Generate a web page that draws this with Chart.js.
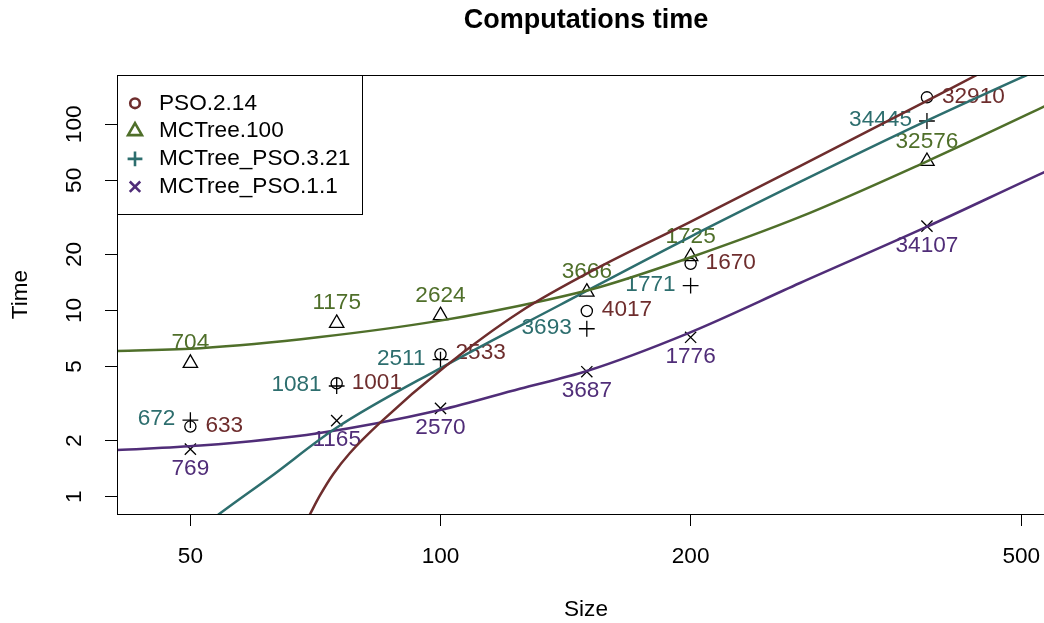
<!DOCTYPE html>
<html>
<head>
<meta charset="utf-8">
<script src="https://cdn.jsdelivr.net/npm/chart.js@4.4.0/dist/chart.umd.min.js"></script>
<style>
  html, body { margin: 0; padding: 0; background: #fff; overflow: hidden; }
  #wrap { width: 1044px; height: 623px; overflow: hidden; }
</style>
</head>
<body>
<div id="wrap"><canvas id="chart" width="1100" height="623"></canvas></div>
<script>
// problem sizes and measured times (seconds)
const sizes = [50, 75, 100, 150, 200, 385];
const seriesNames = ['PSO.2.14', 'MCTree.100', 'MCTree_PSO.3.21', 'MCTree_PSO.1.1'];

const psoTime = [2.38, 4.06, 5.82, 9.94, 17.8, 139.6];
const mctTime = [5.21, 8.54, 9.4, 12.57, 19.5, 63.3];
const mixTime = [2.58, 3.93, 5.45, 7.98, 13.6, 104.2];
const mix11Time = [1.80, 2.56, 2.98, 4.69, 7.18, 28.4];

// numbers written next to each point
const psoCount = [633, 1001, 2533, 4017, 1670, 32910];
const mctCount = [704, 1175, 2624, 3666, 1725, 32576];
const mixCount = [672, 1081, 2511, 3693, 1771, 34445];
const mix11Count = [769, 1165, 2570, 3687, 1776, 34107];

// fitted curves
const psoFitX = [67.7, 69.7, 71.6, 74.3, 77.8, 84.6, 101.3, 124.6, 155.6, 198.5, 270.8, 382.8, 442, 471];
const psoFitY = [0.63, 0.81, 1.015, 1.324, 1.717, 2.5, 5.0, 9.82, 17.2, 29.5, 59.7, 131.8, 184, 213];
const mctFitX = [40.8, 51.4, 71.2, 99.9, 134.2, 155.6, 198.5, 270.8, 382.8, 532.3, 556.7];
const mctFitY = [6.06, 6.27, 7.18, 8.82, 11.39, 13.37, 19.07, 31.8, 62.5, 124.3, 136.8];
const mixFitX = [52.1, 54.3, 62.4, 74.8, 99.9, 139.2, 198.5, 270.8, 382.8, 507.8, 556.7];
const mixFitY = [0.705, 0.814, 1.276, 2.33, 4.89, 10.7, 24.5, 49.0, 103.3, 184, 221];
const mix11FitX = [40.8, 51.4, 71.2, 99.9, 124.6, 150, 198.5, 270.8, 382.8, 532.3, 556.7];
const mix11FitY = [1.78, 1.88, 2.19, 2.92, 3.8, 4.73, 7.54, 14.05, 27.85, 55.2, 60.4];

const xTicks = [50, 100, 200, 500];
const yTicks = [1, 2, 5, 10, 20, 50, 100];

const times = [psoTime, mctTime, mixTime, mix11Time];
const counts = [psoCount, mctCount, mixCount, mix11Count];
const fits = [[psoFitX, psoFitY], [mctFitX, mctFitY], [mixFitX, mixFitY], [mix11FitX, mix11FitY]];

const colors = ['#6e2d2d', '#4f6f2a', '#2d6e6e', '#502d78'];
const markers = ['circle', 'triangle', 'cross', 'crossRot'];
const markerSize = [5.6, 8.3, 7.9, 7.9];
const legendSize = [4.8, 8.0, 7.4, 7.4];
const labelPos = [4, 3, 2, 1]; // like R text(pos=): 1 below, 2 left, 3 above, 4 right

const FONT = '"Liberation Sans", Arial, Helvetica, sans-serif';
const FS = 22.6;

const datasets = [];
seriesNames.forEach((name, s) => {
  datasets.push({
    type: 'line',
    label: name + ' fit',
    data: fits[s][0].map((x, i) => ({ x: x, y: fits[s][1][i] })),
    borderColor: colors[s],
    borderWidth: 2.5,
    pointRadius: 0,
    fill: false,
    cubicInterpolationMode: 'monotone',
    clip: 0,
    order: 0
  });
  datasets.push({
    type: 'line',
    label: name,
    data: sizes.map((x, i) => ({ x: x, y: times[s][i] })),
    showLine: false,
    pointStyle: markers[s],
    pointRadius: markerSize[s],
    pointBorderColor: '#000',
    pointBackgroundColor: 'rgba(0,0,0,0)',
    pointBorderWidth: 1.3,
    clip: 0,
    order: 1
  });
});

const decor = {
  id: 'decor',
  beforeDatasetsDraw(chart) {
    const ctx = chart.ctx;
    const xs = chart.scales.x, ys = chart.scales.y;
    ctx.save();
    ctx.font = FS + 'px ' + FONT;
    ctx.textBaseline = 'middle';
    for (let s = 0; s < seriesNames.length; s++) {
      ctx.fillStyle = colors[s];
      for (let i = 0; i < sizes.length; i++) {
        const px = xs.getPixelForValue(sizes[i]);
        const py = ys.getPixelForValue(times[s][i]);
        const txt = String(counts[s][i]);
        const pos = labelPos[s];
        if (pos === 4) { ctx.textAlign = 'left'; ctx.fillText(txt, px + 15, py - 1); }
        else if (pos === 2) { ctx.textAlign = 'right'; ctx.fillText(txt, px - 15, py - 1); }
        else if (pos === 3) { ctx.textAlign = 'center'; ctx.fillText(txt, px, py - 20); }
        else { ctx.textAlign = 'center'; ctx.fillText(txt, px, py + 19.5); }
      }
    }
    ctx.restore();
  },
  afterDraw(chart) {
    const ctx = chart.ctx;
    const a = chart.chartArea;
    const ys = chart.scales.y;
    ctx.save();
    // plot box
    ctx.strokeStyle = '#000';
    ctx.lineWidth = 1;
    ctx.strokeRect(a.left + 0.5, a.top + 0.5, a.right - a.left, a.bottom - a.top);

    ctx.fillStyle = '#000';
    // title
    ctx.font = 'bold 27px ' + FONT;
    ctx.textAlign = 'center';
    ctx.textBaseline = 'alphabetic';
    ctx.fillText('Computations time', (a.left + a.right) / 2, 28);

    // x axis title
    ctx.font = FS + 'px ' + FONT;
    ctx.textBaseline = 'middle';
    ctx.fillText('Size', (a.left + a.right) / 2, 610);

    // y tick labels (rotated, as in R)
    yTicks.forEach(v => {
      const py = ys.getPixelForValue(v);
      ctx.save();
      ctx.translate(75, py);
      ctx.rotate(-Math.PI / 2);
      ctx.textAlign = 'center';
      ctx.textBaseline = 'middle';
      ctx.fillText(String(v), 0, 0);
      ctx.restore();
    });

    // y axis title
    ctx.save();
    ctx.translate(21, (a.top + a.bottom) / 2);
    ctx.rotate(-Math.PI / 2);
    ctx.textAlign = 'center';
    ctx.textBaseline = 'middle';
    ctx.fillText('Time', 0, 0);
    ctx.restore();

    // legend
    const lx = a.left, ly = a.top, lw = 245, lh = 139;
    ctx.fillStyle = '#fff';
    ctx.fillRect(lx, ly, lw, lh);
    ctx.strokeStyle = '#000';
    ctx.lineWidth = 1;
    ctx.strokeRect(lx + 0.5, ly + 0.5, lw, lh);
    ctx.textAlign = 'left';
    ctx.textBaseline = 'middle';
    seriesNames.forEach((name, s) => {
      const ry = ly + 28.3 + s * 27.8;
      ctx.strokeStyle = colors[s];
      ctx.fillStyle = 'rgba(0,0,0,0)';
      ctx.lineWidth = 2.6;
      Chart.helpers.drawPoint(ctx, {
        pointStyle: markers[s],
        radius: legendSize[s],
        borderWidth: 2.6,
        rotation: 0
      }, lx + 18, ry);
      ctx.fillStyle = '#000';
      ctx.fillText(name, lx + 42, ry);
    });
    ctx.restore();
  }
};

new Chart(document.getElementById('chart'), {
  type: 'line',
  data: { datasets: datasets },
  options: {
    responsive: false,
    animation: false,
    events: [],
    layout: { padding: { left: 0, right: 45, top: 75, bottom: 0 } },
    plugins: {
      legend: { display: false },
      tooltip: { enabled: false },
      title: { display: false }
    },
    scales: {
      x: {
        type: 'logarithmic',
        position: 'bottom',
        min: 40.8,
        max: 549,
        bounds: 'data',
        afterBuildTicks: s => { s.ticks = xTicks.map(v => ({ value: v })); },
        afterFit: s => { s.height = 109; },
        grid: { drawOnChartArea: false, drawTicks: true, tickLength: 12, color: '#000', lineWidth: 1 },
        border: { display: false },
        ticks: {
          autoSkip: false,
          maxRotation: 0,
          padding: 17.4,
          color: '#000',
          font: { family: FONT, size: FS },
          callback: v => String(v)
        }
      },
      y: {
        type: 'logarithmic',
        position: 'left',
        min: 0.807,
        max: 184,
        bounds: 'data',
        afterBuildTicks: s => { s.ticks = yTicks.map(v => ({ value: v })); },
        afterFit: s => { s.width = 117; },
        grid: { drawOnChartArea: false, drawTicks: true, tickLength: 12, color: '#000', lineWidth: 1 },
        border: { display: false },
        ticks: { display: false }
      }
    }
  },
  plugins: [decor]
});
</script>
</body>
</html>
